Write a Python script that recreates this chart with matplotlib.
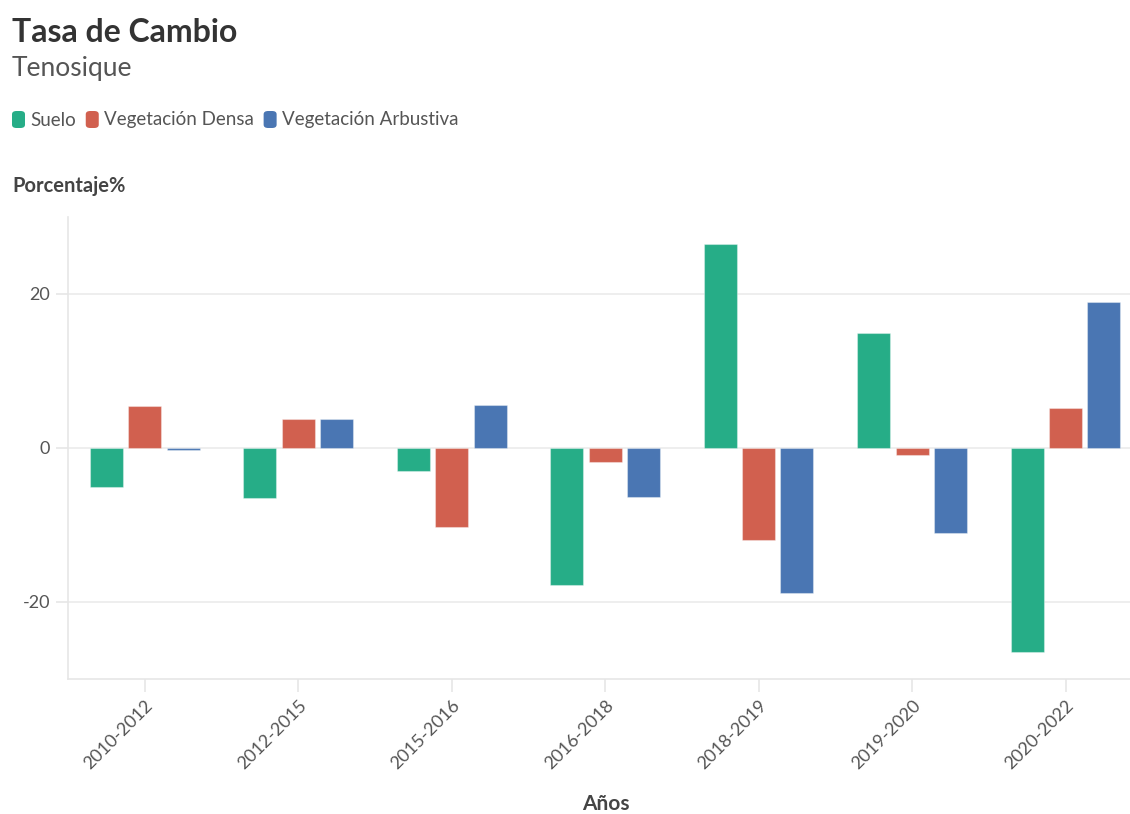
import matplotlib
matplotlib.use("Agg")
import matplotlib.pyplot as plt
import numpy as np
from matplotlib.patches import FancyBboxPatch

plt.rcParams['font.family'] = ['Lato', 'DejaVu Sans']

categories = ["2010-2012", "2012-2015", "2015-2016", "2016-2018", "2018-2019", "2019-2020", "2020-2022"]
suelo = [-5.1, -6.5, -3.0, -17.8, 26.5, 15.0, -26.5]
veg_densa = [5.5, 3.8, -10.3, -1.8, -12.0, -0.9, 5.2]
veg_arbustiva = [-0.3, 3.8, 5.6, -6.3, -18.8, -11.1, 19.0]
series_names = ["Suelo", "Vegetación Densa", "Vegetación Arbustiva"]
colors = ["#26ad87", "#d1604f", "#4a76b3"]
yticks = [-20, 0, 20]

W, H = 1130, 814
fig = plt.figure(figsize=(11.3, 8.14), dpi=100)
ax = fig.add_axes([68/W, 135/H, (W-68)/W, (679-217)/H])

x = np.arange(len(categories))
w = 0.215
off = 0.25
for i, (vals, c) in enumerate(zip([suelo, veg_densa, veg_arbustiva], colors)):
    ax.bar(x + (i - 1) * off, vals, width=w, color=c, edgecolor=(1, 1, 1, 0.35), linewidth=0.8, zorder=3)

ax.set_xlim(-0.5, 6.42)
ax.set_ylim(-30, 30)
ax.set_yticks(yticks)
ax.set_yticklabels([str(t) for t in yticks])
ax.set_xticks(x)
ax.set_xticklabels(categories, rotation=45, ha='right', rotation_mode='anchor')
ax.grid(axis='y', color='#ebebeb', linewidth=1.2, zorder=0)
for s in ['top', 'right']:
    ax.spines[s].set_visible(False)
for s in ['left', 'bottom']:
    ax.spines[s].set_color('#e6e6e6')
    ax.spines[s].set_linewidth(1.2)
ax.tick_params(axis='both', colors='#e6e6e6', length=9, width=1.2, labelcolor='#555555', labelsize=13)
ax.tick_params(axis='x', pad=4)
ax.tick_params(axis='y', pad=4)

fig.text(12/W, 1 - 42/H, "Tasa de Cambio", fontsize=23, fontweight='bold', color='#333333', ha='left', va='baseline')
fig.text(12/W, 1 - 76/H, "Tenosique", fontsize=19, color='#555555', ha='left', va='baseline')
fig.text(12/W, 1 - 192/H, "Porcentaje%", fontsize=14.5, fontweight='bold', color='#444444', ha='left', va='baseline')
fig.text(606/W, 1 - 810/H, "Años", fontsize=15, fontweight='bold', color='#444444', ha='center', va='baseline')

renderer = fig.canvas.get_renderer()
lx = 12
for name, c in zip(series_names, colors):
    p = FancyBboxPatch((lx/W, 1 - 128/H), 13/W, 17/H,
                       boxstyle="round,pad=0,rounding_size=0.004", transform=fig.transFigure,
                       facecolor=c, edgecolor='none')
    fig.patches.append(p)
    t = fig.text((lx + 18)/W, 1 - 120/H, name, fontsize=13.5, color='#555555', ha='left', va='center')
    bb = t.get_window_extent(renderer=renderer)
    lx = bb.x1 + 10

fig.savefig("out.png", dpi=100, facecolor='white')
